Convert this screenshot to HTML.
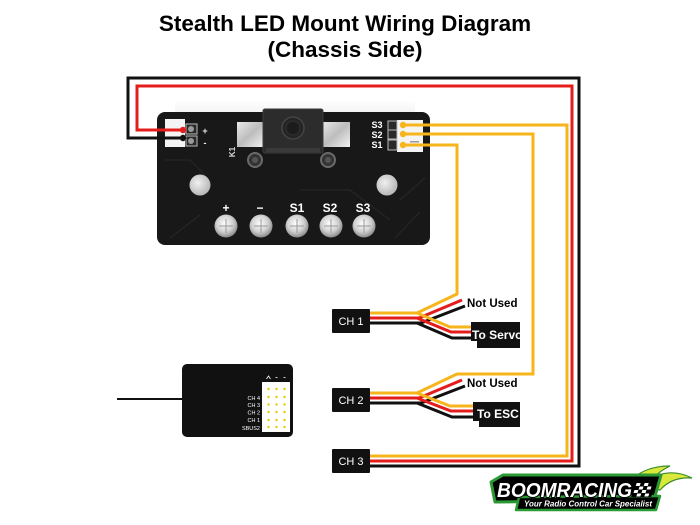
<!DOCTYPE html>
<html><head><meta charset="utf-8"><style>
html,body{margin:0;padding:0;background:#fff;}
svg{display:block;}
</style></head><body>
<svg width="700" height="525" viewBox="0 0 700 525" xmlns="http://www.w3.org/2000/svg">
<defs>
<radialGradient id="pad" cx="45%" cy="40%" r="60%">
<stop offset="0" stop-color="#ffffff"/><stop offset="0.6" stop-color="#d0d0d0"/><stop offset="1" stop-color="#8a8a8a"/>
</radialGradient>
<linearGradient id="metal" x1="0" y1="0" x2="1" y2="1">
<stop offset="0" stop-color="#e8e8e8"/><stop offset="0.5" stop-color="#bdbdbd"/><stop offset="1" stop-color="#f2f2f2"/>
</linearGradient>
<radialGradient id="hole" cx="40%" cy="40%" r="60%">
<stop offset="0" stop-color="#f0f0f0"/><stop offset="1" stop-color="#b8b8b8"/>
</radialGradient>
<linearGradient id="glow" x1="0" y1="0" x2="0" y2="1">
<stop offset="0" stop-color="#ffffff"/><stop offset="1" stop-color="#f3f3f3"/>
</linearGradient>
</defs>

<!-- Title -->
<g font-family="Liberation Sans, Arial, sans-serif" font-weight="bold" fill="#000" text-anchor="middle">
<text x="345" y="31" font-size="22.5">Stealth LED Mount Wiring Diagram</text>
<text x="345" y="57" font-size="22.5">(Chassis Side)</text>
</g>

<!-- soft photo glow behind board -->
<rect x="175" y="100" width="240" height="14" fill="url(#glow)"/>

<!-- LED board -->
<rect x="157" y="112" width="273" height="133" rx="8" fill="#181818"/>
<g stroke="#262626" stroke-width="1.2" fill="none">
<path d="M170,238 L200,215 M395,238 L420,212 M400,200 L425,178 M165,160 L190,160 L205,175"/>
<path d="M300,190 L350,190 L390,220"/>
</g>
<!-- left connector -->
<rect x="165" y="119" width="20" height="28" fill="#f4f4f4"/>
<rect x="186" y="124" width="11" height="10" fill="#2a2a2a" stroke="#bbb" stroke-width="1"/>
<rect x="186" y="136" width="11" height="10" fill="#2a2a2a" stroke="#bbb" stroke-width="1"/>
<circle cx="191" cy="129" r="3" fill="#999"/>
<circle cx="191" cy="141" r="3" fill="#999"/>
<text x="205" y="134" font-family="Liberation Sans, sans-serif" font-size="9" font-weight="bold" fill="#eee" text-anchor="middle">+</text>
<text x="205" y="146" font-family="Liberation Sans, sans-serif" font-size="9" font-weight="bold" fill="#eee" text-anchor="middle">-</text>

<!-- switch pads & body -->
<rect x="237" y="122" width="27" height="25" fill="url(#metal)"/>
<rect x="322" y="122" width="28" height="25" fill="url(#metal)"/>
<rect x="263" y="109" width="60" height="44" rx="2" fill="#2c2c2c" stroke="#3d3d3d" stroke-width="1"/>
<rect x="266" y="148" width="54" height="4" fill="#3a3a3a"/>
<circle cx="293" cy="128" r="11" fill="#242424" stroke="#444" stroke-width="1.5"/>
<circle cx="293" cy="128" r="7" fill="#1c1c1c" stroke="#333" stroke-width="1"/>
<text x="0" y="0" transform="translate(235,152) rotate(-90)" font-family="Liberation Sans, sans-serif" font-size="8" font-weight="bold" fill="#ddd" text-anchor="middle">K1</text>
<!-- small components -->
<circle cx="255" cy="160" r="7" fill="#333" stroke="#6a6a6a" stroke-width="2"/>
<circle cx="255" cy="160" r="3" fill="#555"/>
<circle cx="328" cy="160" r="7" fill="#333" stroke="#6a6a6a" stroke-width="2"/>
<circle cx="328" cy="160" r="3" fill="#555"/>
<!-- holes -->
<circle cx="200" cy="185" r="10.5" fill="url(#hole)"/>
<circle cx="387" cy="185" r="10.5" fill="url(#hole)"/>
<!-- pad labels -->
<g font-family="Liberation Sans, sans-serif" font-size="12" font-weight="bold" fill="#fff" text-anchor="middle">
<text x="226" y="212">+</text>
<text x="260" y="212">−</text>
<text x="297" y="212">S1</text>
<text x="330" y="212">S2</text>
<text x="363" y="212">S3</text>
</g>
<!-- LED pads -->
<g>
<circle cx="226" cy="226" r="11.5" fill="url(#pad)"/>
<circle cx="261" cy="226" r="11.5" fill="url(#pad)"/>
<circle cx="297" cy="226" r="11.5" fill="url(#pad)"/>
<circle cx="331" cy="226" r="11.5" fill="url(#pad)"/>
<circle cx="364" cy="226" r="11.5" fill="url(#pad)"/>
</g>
<g stroke="#9a9a9a" stroke-width="1" fill="none">
<path d="M219,226 H233 M226,219 V233"/><path d="M254,226 H268 M261,219 V233"/><path d="M290,226 H304 M297,219 V233"/><path d="M324,226 H338 M331,219 V233"/><path d="M357,226 H371 M364,219 V233"/>
</g>
<!-- right connector -->
<rect x="397" y="120" width="26" height="32" fill="#f4f4f4"/>
<rect x="388" y="121" width="9" height="9" fill="#2a2a2a" stroke="#bbb" stroke-width="1"/>
<rect x="388" y="130" width="9" height="9" fill="#2a2a2a" stroke="#bbb" stroke-width="1"/>
<rect x="388" y="140" width="9" height="10" fill="#2a2a2a" stroke="#bbb" stroke-width="1"/>
<rect x="410" y="141" width="9" height="1.5" fill="#999"/>
<g font-family="Liberation Sans, sans-serif" font-size="9" font-weight="bold" fill="#fff" text-anchor="middle">
<text x="377" y="128">S3</text>
<text x="377" y="138">S2</text>
<text x="377" y="148">S1</text>
</g>

<!-- WIRES -->
<g fill="none" stroke-linejoin="miter" stroke-width="3">
<path d="M183,138 H128 V78 H579 V466 H370" stroke="#111"/>
<path d="M183,130 H137 V86 H572 V461 H370" stroke="#e41c1c"/>
<path d="M403,125 H567 V456 H370" stroke="#f7b51c"/>
<path d="M403,134 H533 V374 H457 L417,393 H370" stroke="#f7b51c"/>
<path d="M403,145 H457 V294 L417,313 H370" stroke="#f7b51c"/>

<path d="M370,318 H419 L462,300" stroke="#e41c1c"/>
<path d="M370,323 H421 L465,306" stroke="#111"/>
<path d="M417,313 L450,327 H472" stroke="#f7b51c"/>
<path d="M417,318 L451,332 H472" stroke="#e41c1c"/>
<path d="M417,323 L452,338 H472" stroke="#111"/>

<path d="M370,398 H419 L462,380" stroke="#e41c1c"/>
<path d="M370,403 H421 L465,386" stroke="#111"/>
<path d="M417,393 L450,406 H474" stroke="#f7b51c"/>
<path d="M417,398 L451,411 H474" stroke="#e41c1c"/>
<path d="M417,403 L452,417 H474" stroke="#111"/>
</g>

<circle cx="183" cy="130" r="3.2" fill="#e41c1c"/>
<circle cx="183" cy="138" r="3.2" fill="#111"/>
<circle cx="403" cy="125" r="3.2" fill="#f7b51c"/>
<circle cx="403" cy="134" r="3.2" fill="#f7b51c"/>
<circle cx="403" cy="145" r="3.2" fill="#f7b51c"/>

<!-- CH connectors -->
<g fill="#111">
<rect x="332" y="309" width="38" height="24" rx="1"/>
<rect x="332" y="388" width="38" height="24" rx="1"/>
<rect x="332" y="449" width="38" height="24" rx="1"/>
</g>
<g font-family="Liberation Sans, sans-serif" font-size="11" fill="#fff" text-anchor="middle">
<text x="351" y="325">CH 1</text>
<text x="351" y="404">CH 2</text>
<text x="351" y="465">CH 3</text>
</g>

<!-- To Servo / To ESC -->
<g fill="#111">
<rect x="471" y="322" width="49" height="19"/>
<rect x="477" y="340" width="43" height="8"/>
<rect x="473" y="402" width="47" height="19"/>
<rect x="479" y="420" width="41" height="7"/>
</g>
<g font-family="Liberation Sans, sans-serif" font-weight="bold" fill="#fff">
<text x="472" y="339" font-size="12">To Servo</text>
<text x="477" y="418" font-size="12">To ESC</text>
</g>
<g font-family="Liberation Sans, sans-serif" font-weight="bold" fill="#000" font-size="11.5">
<text x="467" y="307">Not Used</text>
<text x="467" y="387">Not Used</text>
</g>

<!-- Receiver -->
<line x1="117" y1="399" x2="184" y2="399" stroke="#111" stroke-width="2"/>
<rect x="182" y="364" width="111" height="73" rx="5" fill="#111"/>
<rect x="262" y="382" width="28" height="50" fill="#fff"/>
<g fill="#e8c800">
<circle cx="268.5" cy="389" r="1.2"/><circle cx="276.5" cy="389" r="1.2"/><circle cx="284.5" cy="389" r="1.2"/>
<circle cx="268.5" cy="397" r="1.2"/><circle cx="276.5" cy="397" r="1.2"/><circle cx="284.5" cy="397" r="1.2"/>
<circle cx="268.5" cy="404.5" r="1.2"/><circle cx="276.5" cy="404.5" r="1.2"/><circle cx="284.5" cy="404.5" r="1.2"/>
<circle cx="268.5" cy="412" r="1.2"/><circle cx="276.5" cy="412" r="1.2"/><circle cx="284.5" cy="412" r="1.2"/>
<circle cx="268.5" cy="420" r="1.2"/><circle cx="276.5" cy="420" r="1.2"/><circle cx="284.5" cy="420" r="1.2"/>
<circle cx="268.5" cy="427" r="1.2"/><circle cx="276.5" cy="427" r="1.2"/><circle cx="284.5" cy="427" r="1.2"/>
</g>
<g font-family="Liberation Sans, sans-serif" font-size="5.5" fill="#fff" text-anchor="end">
<text x="260" y="400">CH 4</text>
<text x="260" y="407">CH 3</text>
<text x="260" y="414.5">CH 2</text>
<text x="260" y="422">CH 1</text>
<text x="260" y="430">SBUS2</text>
</g>
<g stroke="#fff" stroke-width="0.8" fill="none">
<path d="M266.5,379 L268.5,376 L270.5,379"/>
<path d="M275.5,377.5 H277.5"/>
<path d="M283.5,377.5 H285.5"/>
</g>

<!-- BoomRacing logo -->
<g>
<path d="M626,486 C636,472 652,466 670,466 C662,470 658,473 656,476 C668,471 680,472 692,478 C678,477 668,481 660,490 Z" fill="#d9e83a" stroke="#3a8a2a" stroke-width="1.2"/>
<path d="M491,482 L503,475 L661,475 L654,500 L495,502 Z" fill="#000" stroke="#2b9a34" stroke-width="3" stroke-linejoin="round"/>
<path d="M519,497 L660,496 L656,510 L516,510 Z" fill="#000" stroke="#2b9a34" stroke-width="2.5" stroke-linejoin="round"/>
<text x="497" y="497" font-family="Liberation Sans, sans-serif" font-size="20" font-weight="bold" font-style="italic" textLength="135" lengthAdjust="spacingAndGlyphs" fill="#fff" stroke="#000" stroke-width="2" paint-order="stroke" stroke-linejoin="round">BOOMRACING</text>
<g transform="translate(636,482) skewX(-18)">
<rect x="0" y="0" width="20" height="15" fill="#000"/>
<g fill="#fff">
<rect x="1" y="1" width="4" height="3"/><rect x="9" y="1" width="4" height="3"/>
<rect x="5" y="4.5" width="4" height="3"/><rect x="13" y="4.5" width="4" height="3"/>
<rect x="1" y="8" width="4" height="3"/><rect x="9" y="8" width="4" height="3"/>
<rect x="5" y="11.5" width="4" height="3"/><rect x="13" y="11.5" width="4" height="3"/>
</g>
</g>
<text x="524" y="506.5" font-family="Liberation Sans, sans-serif" font-size="8" font-weight="bold" font-style="italic" textLength="128" lengthAdjust="spacingAndGlyphs" fill="#fff">Your Radio Control Car Specialist</text>
</g>
</svg>
</body></html>
